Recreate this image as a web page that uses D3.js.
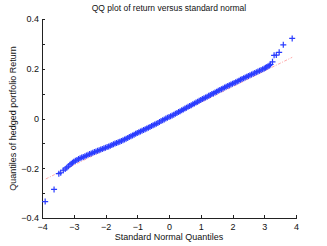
<html>
<head>
<meta charset="utf-8">
<title>QQ plot</title>
<script src="https://cdn.jsdelivr.net/npm/d3@7"></script>
<style>
body {
  margin: 0px;
  background-color: #ffffff;
}
svg text {
  font-family: "Liberation Sans", Arial, sans-serif;
  fill: #111;
}
.axis path,
.axis line {
  fill: none;
  stroke: #222;
  shape-rendering: crispEdges;
}
.axis text {
  font-size: 9px;
}
.title text {
  font-size: 8.5px;
  text-anchor: middle;
}
.label text {
  font-size: 9px;
  text-anchor: middle;
}
</style>
</head>
<body>
<div class="target"></div>
<script>
// theoretical (standard normal) quantiles
var qx = [-3.90, -3.62, -3.47, -3.41, -3.33, -3.27, -3.22, -3.17, -3.12, -3.08, -3.04,
  -3.00, -2.95, -2.90, -2.85, -2.80, -2.75, -2.70, -2.65, -2.60, -2.55,
  -2.50, -2.45, -2.40, -2.35, -2.30, -2.25, -2.20, -2.15, -2.10, -2.05,
  -2.00, -1.95, -1.90, -1.85, -1.80, -1.75, -1.70, -1.65, -1.60, -1.55,
  -1.50, -1.45, -1.40, -1.35, -1.30, -1.25, -1.20, -1.15, -1.10, -1.05,
  -1.00, -0.95, -0.90, -0.85, -0.80, -0.75, -0.70, -0.65, -0.60, -0.55,
  -0.50, -0.45, -0.40, -0.35, -0.30, -0.25, -0.20, -0.15, -0.10, -0.05,
  0.00, 0.05, 0.10, 0.15, 0.20, 0.25, 0.30, 0.35, 0.40, 0.45,
  0.50, 0.55, 0.60, 0.65, 0.70, 0.75, 0.80, 0.85, 0.90, 0.95,
  1.00, 1.05, 1.10, 1.15, 1.20, 1.25, 1.30, 1.35, 1.40, 1.45,
  1.50, 1.55, 1.60, 1.65, 1.70, 1.75, 1.80, 1.85, 1.90, 1.95,
  2.00, 2.05, 2.10, 2.15, 2.20, 2.25, 2.30, 2.35, 2.40, 2.45,
  2.50, 2.55, 2.60, 2.65, 2.70, 2.75, 2.80, 2.85, 2.90, 2.95,
  3.00, 3.04, 3.08, 3.12, 3.16, 3.20, 3.26, 3.31, 3.38, 3.47, 3.60, 3.88];
// sample quantiles of the hedged portfolio return
var qy = [-0.334, -0.285, -0.222, -0.218, -0.208, -0.203, -0.198, -0.192, -0.186, -0.182, -0.178,
  -0.174, -0.170, -0.167, -0.163, -0.160, -0.157, -0.155, -0.152, -0.149, -0.146,
  -0.143, -0.141, -0.138, -0.135, -0.133, -0.130, -0.128, -0.125, -0.123, -0.120,
  -0.118, -0.115, -0.113, -0.110, -0.107, -0.104, -0.101, -0.098, -0.095, -0.093,
  -0.090, -0.087, -0.084, -0.081, -0.078, -0.074, -0.071, -0.068, -0.065, -0.061,
  -0.058, -0.055, -0.052, -0.049, -0.046, -0.043, -0.040, -0.037, -0.034, -0.030,
  -0.027, -0.024, -0.021, -0.018, -0.014, -0.010, -0.007, -0.004, 0.000, 0.003,
  0.006, 0.009, 0.012, 0.015, 0.019, 0.022, 0.026, 0.029, 0.033, 0.036,
  0.040, 0.043, 0.047, 0.050, 0.053, 0.057, 0.060, 0.064, 0.067, 0.071,
  0.074, 0.078, 0.081, 0.084, 0.087, 0.091, 0.094, 0.098, 0.101, 0.105,
  0.108, 0.112, 0.115, 0.118, 0.121, 0.125, 0.128, 0.131, 0.134, 0.137,
  0.140, 0.143, 0.146, 0.149, 0.152, 0.156, 0.159, 0.162, 0.165, 0.168,
  0.171, 0.174, 0.177, 0.180, 0.183, 0.186, 0.189, 0.192, 0.195, 0.198,
  0.201, 0.204, 0.207, 0.210, 0.213, 0.217, 0.228, 0.254, 0.255, 0.266, 0.296, 0.322];
// reference line ends
var refX = [-3.88, 3.88];
var refY = [-0.243, 0.246];

var xTicks = [-4, -3, -2, -1, 0, 1, 2, 3, 4];
var yTicks = [-0.4, -0.3, -0.2, -0.1, 0, 0.1, 0.2, 0.3, 0.4];

var W = 327, H = 246;
var margin = {top: 19, right: 31, bottom: 28, left: 42},
  width = W - margin.left - margin.right,
  height = H - margin.top - margin.bottom;

var svg = d3.select('.target')
  .append('svg')
    .attr('width', W)
    .attr('height', H)
    .append('g')
      .attr('transform', 'translate(' + margin.left + ',' + margin.top + ')');

var x = d3.scaleLinear().domain([-4, 4]).range([0, width]);
var y = d3.scaleLinear().domain([-0.4, 0.4]).range([height, 0]);

var xAxis = d3.axisBottom(x)
  .tickValues(xTicks)
  .tickSizeInner(-3)
  .tickSizeOuter(0)
  .tickPadding(6)
  .tickFormat(function(d) { return d < 0 ? '\u2212' + (-d) : d; });

var yAxis = d3.axisLeft(y)
  .tickValues(yTicks)
  .tickSizeInner(-3)
  .tickSizeOuter(0)
  .tickPadding(3)
  .tickFormat(function(d) {
    if (Math.round(d * 10) % 2 != 0) return '';
    if (d == 0) return '0';
    return (d < 0 ? '\u2212' : '') + Math.abs(d).toFixed(1);
  });

svg.append('g')
  .attr('class', 'x axis')
  .attr('transform', 'translate(0,' + height + ')')
  .call(xAxis);

svg.append('g')
  .attr('class', 'y axis')
  .call(yAxis);

// dash-dot reference line
svg.append('line')
  .attr('x1', x(refX[0]))
  .attr('y1', y(refY[0]))
  .attr('x2', x(refX[1]))
  .attr('y2', y(refY[1]))
  .attr('stroke', '#ff5050')
  .attr('stroke-opacity', 0.7)
  .attr('stroke-width', 0.7)
  .attr('stroke-dasharray', '3,1.5,1,1.5');

// plus markers
var s = 3;
svg.selectAll('.pt')
  .data(qx)
  .enter()
  .append('path')
    .attr('class', 'pt')
    .attr('d', function(d, i) {
      var cx = x(d), cy = y(qy[i]);
      return 'M' + (cx - s) + ',' + cy + 'H' + (cx + s) + 'M' + cx + ',' + (cy - s) + 'V' + (cy + s);
    })
    .attr('fill', 'none')
    .attr('stroke', '#2a3cff')
    .attr('stroke-width', 1.2);

function appendTitle(txt, tx, ty, classname, rot) {
  var t = svg.append('g')
    .attr('class', classname)
    .append('text')
      .attr('x', tx)
      .attr('y', ty)
      .text(txt);
  if (rot) t.attr('transform', 'rotate(-90)');
}

appendTitle('QQ plot of return versus standard normal', width / 2, -8, 'title');
appendTitle('Standard Normal Quantiles', width / 2, height + 22, 'label');
appendTitle('Quantiles of hedged portfolio Return', -height / 2, -26, 'label', true);
</script>
</body>
</html>
